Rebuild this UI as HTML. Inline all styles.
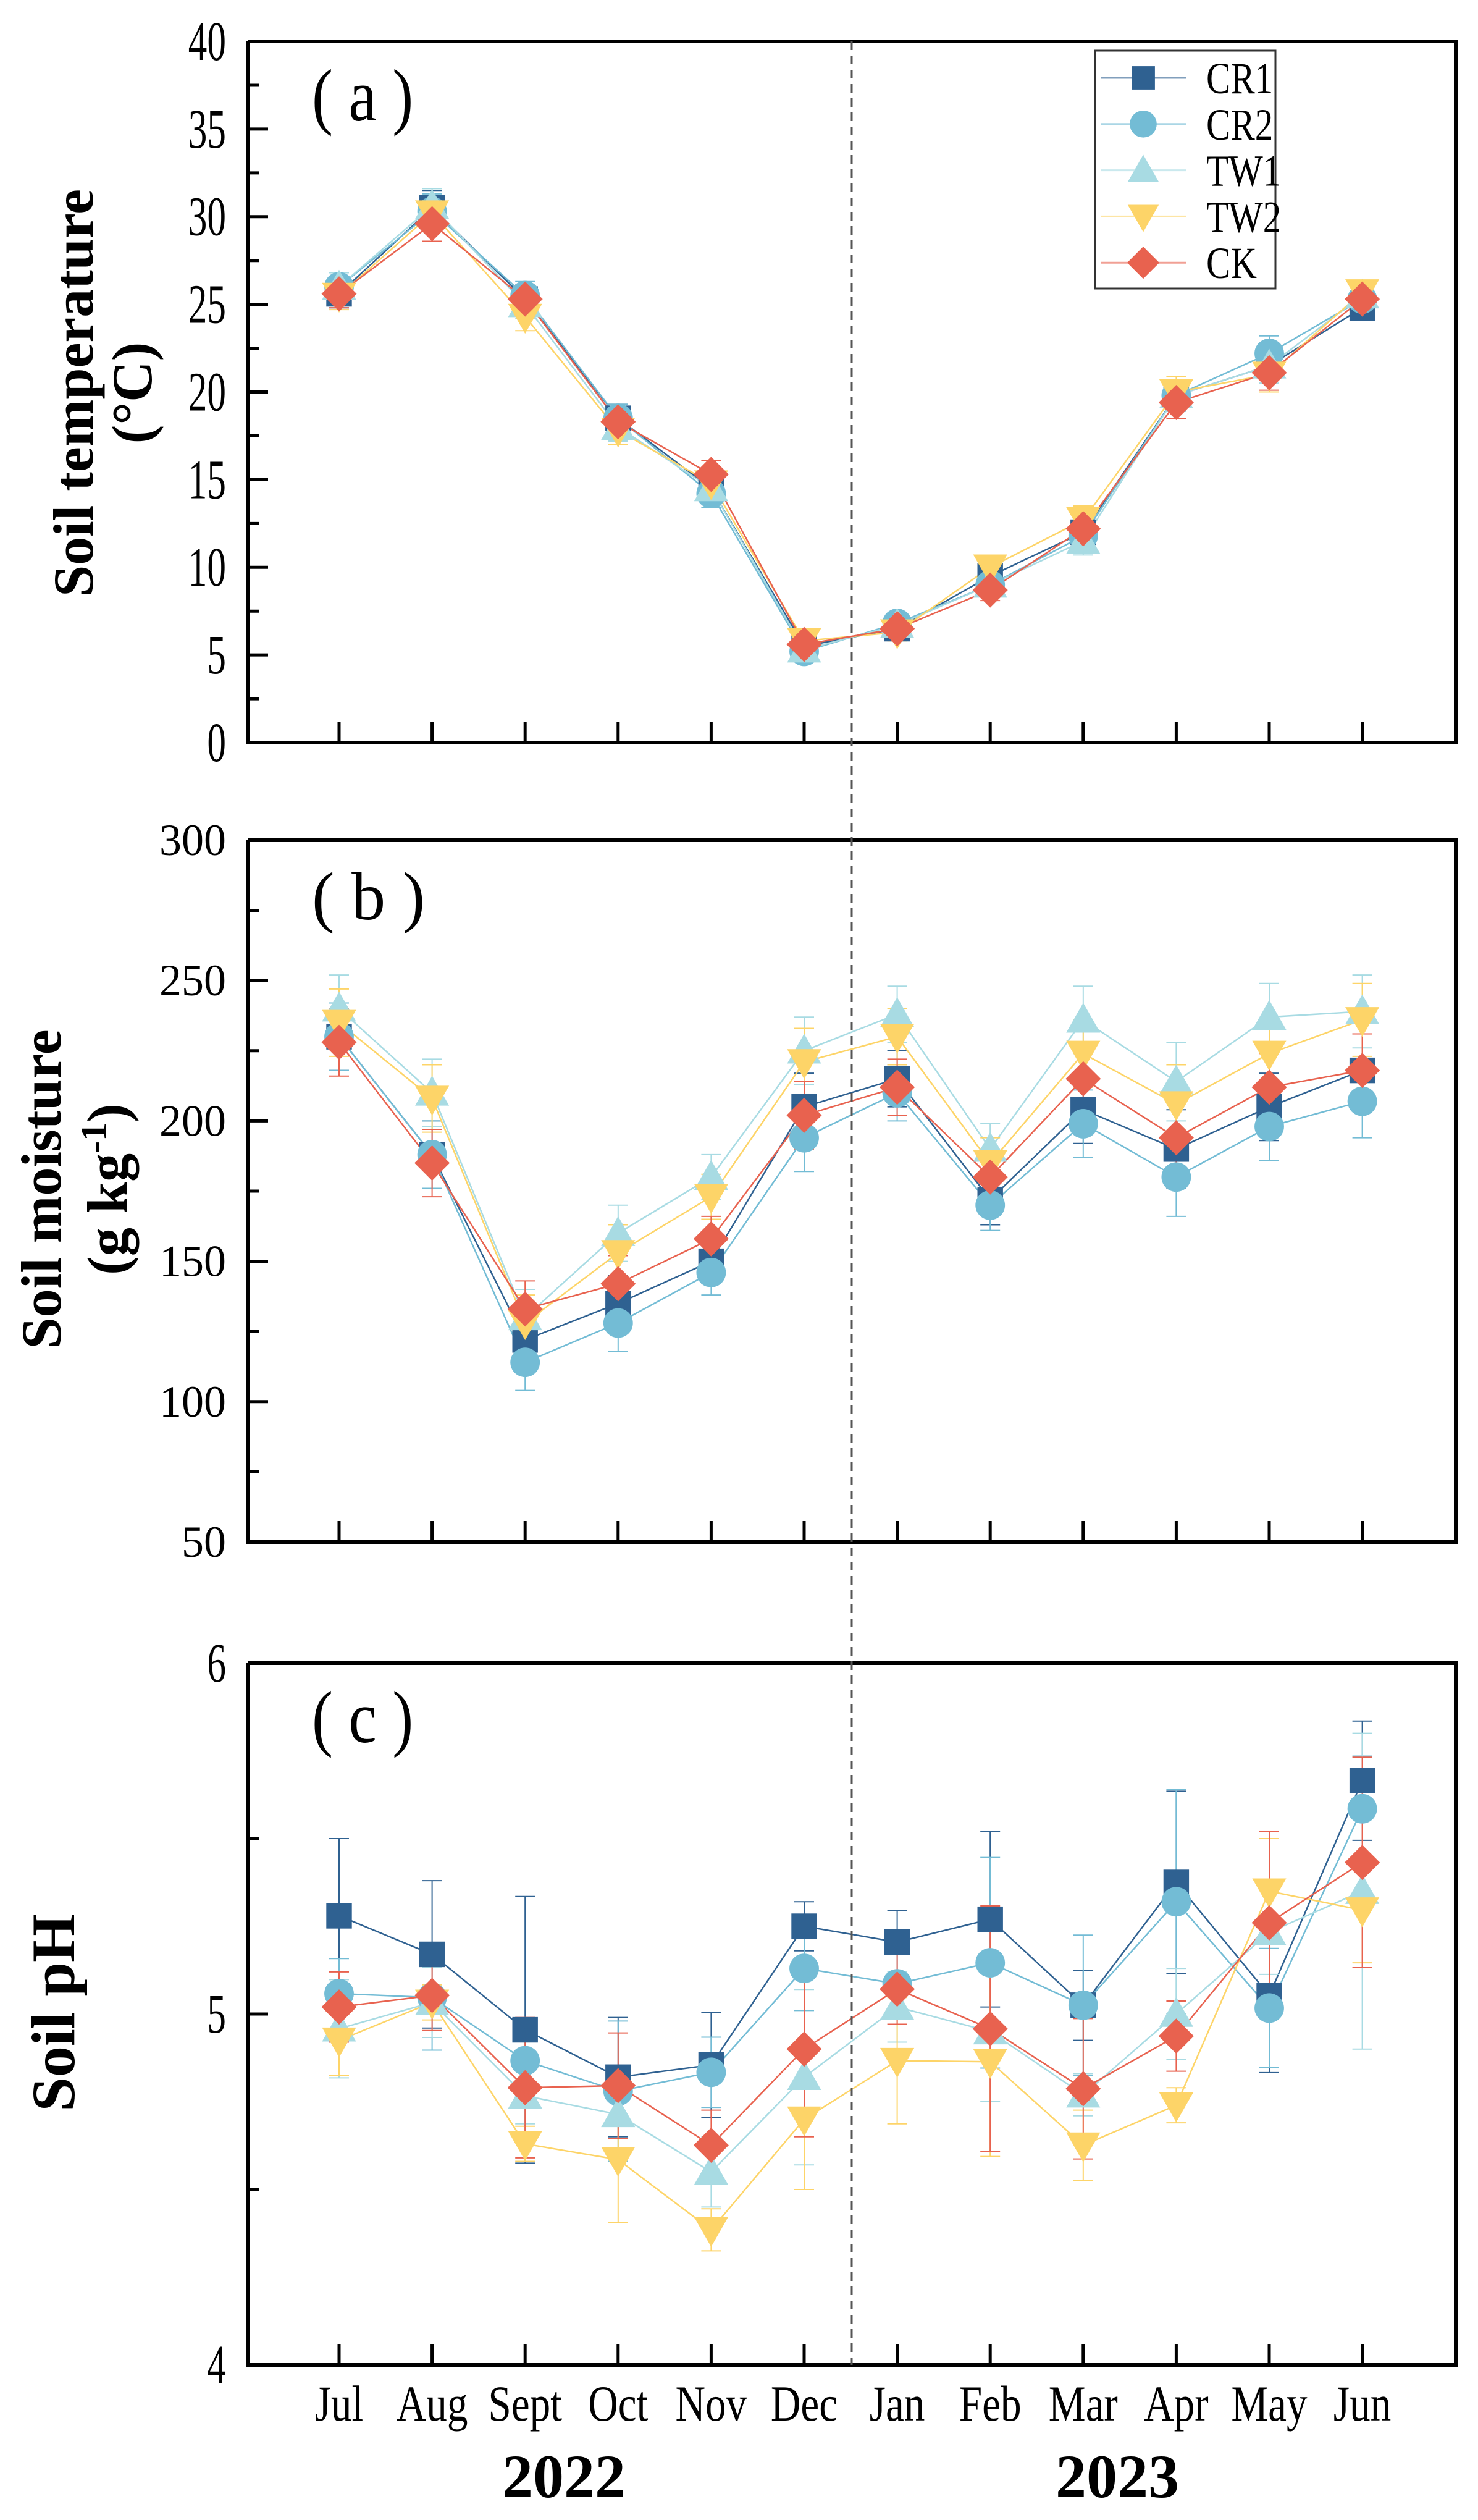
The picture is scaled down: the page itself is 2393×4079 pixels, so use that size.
<!DOCTYPE html>
<html><head><meta charset="utf-8"><style>
html,body{margin:0;padding:0;background:#fff;}
svg{display:block;}
text{font-family:"Liberation Serif","Noto Serif CJK SC",serif;fill:#000;}
</style></head><body>
<svg id="chart" width="2393" height="4079" viewBox="0 0 2393 4079" xmlns="http://www.w3.org/2000/svg"></svg>
<script>
const months = ["Jul","Aug","Sept","Oct","Nov","Dec","Jan","Feb","Mar","Apr","May","Jun"];
const seriesNames = ["CR1","CR2","TW1","TW2","CK"];
const tempCR1 = [25.6,30.5,25.3,18.5,14.5,5.5,6.5,9.5,12.0,19.8,21.5,24.8];
const tempCR2 = [26.0,30.3,25.5,18.5,14.2,5.2,6.8,9.0,11.8,19.8,22.2,25.3];
const tempTW1 = [26.0,30.6,25.0,18.0,14.5,5.3,6.7,9.0,11.5,19.8,21.5,25.5];
const tempTW2 = [25.5,30.2,24.3,17.8,14.8,5.8,6.3,10.0,12.7,20.0,21.0,25.7];
const tempCK  = [25.6,29.6,25.3,18.3,15.3,5.6,6.5,8.7,12.2,19.4,21.1,25.3];
const tempErr = [0.8,1.0,0.8,0.8,0.8,0.5,0.5,0.6,0.8,0.9,1.0,0.6];
const moistCR1 = [230,188,122,135,150,205,215,172,204,190,205,218];
const moistCR2 = [230,188,114,128,146,194,210,170,199,180,198,207];
const moistTW1 = [240,210,130,160,180,225,238,190,236,214,237,239];
const moistTW2 = [235,208,128,153,173,221,230,185,224,206,224,236];
const moistCK  = [228,185,133,142,158,202,212,180,215,194,212,218];
const moistErr = [12,12,10,10,8,12,10,9,12,14,12,13];
const phCR1 = [5.28,5.17,4.955,4.82,4.855,5.25,5.205,5.27,5.025,5.375,5.053,5.665];
const phCR2 = [5.058,5.047,4.867,4.78,4.834,5.13,5.086,5.146,5.025,5.32,5.017,5.585];
const phTW1 = [4.958,5.033,4.767,4.714,4.55,4.82,5.02,4.95,4.77,5.0,5.233,5.35];
const phTW2 = [4.925,5.033,4.63,4.585,4.385,4.70,4.867,4.864,4.626,4.74,5.35,5.296];
const phCK  = [5.02,5.053,4.79,4.796,4.626,4.90,5.071,4.958,4.787,4.937,5.26,5.432];
const phErrCR1 = [0.22,0.21,0.38,0.17,0.15,0.07,0.09,0.25,0.1,0.26,0.22,0.17];
const phErrCR2 = [0.1,0.15,0.1,0.2,0.1,0.12,0.1,0.3,0.2,0.32,0.17,0.15];
const phErrTW1 = [0.14,0.1,0.08,0.13,0.1,0.25,0.1,0.2,0.06,0.13,0.12,0.45];
const phErrTW2 = [0.1,0.05,0.05,0.18,0.06,0.2,0.18,0.27,0.1,0.05,0.15,0.15];
const phErrCK  = [0.1,0.1,0.2,0.15,0.1,0.25,0.1,0.35,0.2,0.1,0.26,0.3];
const tempTicks = ["0","5","10","15","20","25","30","35","40"];
const moistTicks = ["50","100","150","200","250","300"];
const phTicks = ["4","5","6"];

const colors = ["#2f6191","#73bcd5","#a8dbe3","#fdd468","#e8624f"];
const lineColors = ["#2f6191","#73bcd5","#a8dbe3","#fdd468","#e8624f"];
const NS = "http://www.w3.org/2000/svg";
const svg = document.getElementById("chart");
const L = 402, R = 2357, X0 = 549, DX = 150.6;
function xPos(i){ return X0 + i*DX; }
function mk(tag, attrs, parent){ const e=document.createElementNS(NS,tag); for(const k in attrs) e.setAttribute(k,attrs[k]); (parent||svg).appendChild(e); return e; }
function squeeze(el, x, f){ el.setAttribute("transform",`translate(${x},0) scale(${f},1) translate(${-x},0)`); }

function marker(g, k, x, y, s){
  const c = colors[k]; let e;
  if(k===0){ e=mk("rect",{x:x-s*0.45,y:y-s*0.45,width:s*0.9,height:s*0.9,fill:c},g); }
  else if(k===1){ e=mk("circle",{cx:x,cy:y,r:s*0.52,fill:c},g); }
  else if(k===2){ e=mk("polygon",{points:`${x},${y-s*0.6} ${x+s*0.6},${y+s*0.45} ${x-s*0.6},${y+s*0.45}`,fill:c},g); }
  else if(k===3){ e=mk("polygon",{points:`${x-s*0.6},${y-s*0.45} ${x+s*0.6},${y-s*0.45} ${x},${y+s*0.6}`,fill:c},g); }
  else { e=mk("polygon",{points:`${x},${y-s*0.62} ${x+s*0.62},${y} ${x},${y+s*0.62} ${x-s*0.62},${y}`,fill:c},g); }
  return e;
}

function panel(cfg){
  const {top,bottom,min,max,ticks,minorStep,series,errs,label,wide} = cfg;
  const y = v => bottom - (v-min)/(max-min)*(bottom-top);
  const g = mk("g",{});
  
  
  series.forEach((vals,k)=>{
    const sg = mk("g",{},g);
    
    
    const pts = vals.map((v,i)=>`${xPos(i)},${y(v)}`).join(" ");
    mk("polyline",{points:pts,fill:"none",stroke:lineColors[k],"stroke-width":2.5},sg);
    vals.forEach((v,i)=>{
      const e = errs[k][i], x = xPos(i);
      const eb = mk("path",{d:`M${x},${y(v-e)}V${y(v+e)}M${x-16},${y(v-e)}h32M${x-16},${y(v+e)}h32`,stroke:lineColors[k],"stroke-width":2,fill:"none"},sg);
      
      
    });
  });
  series.forEach((vals,k)=>{
    vals.forEach((v,i)=>{
      const m = marker(g,k,xPos(i),y(v),46);
      
      
    });
  });
  const ax = mk("path",{d:`M${L},${top}V${bottom}H${R}V${top}H${L}`,stroke:"#000","stroke-width":6,fill:"none"},g);
  
  
  ticks.forEach(t=>{
    const v=parseFloat(t), yy=y(v);
    mk("line",{x1:L,x2:L+32,y1:yy,y2:yy,stroke:"#000","stroke-width":5},g);
    const tx = mk("text",{x:366,y:yy+(wide?24:30),"text-anchor":"end","font-size":wide?72:90},g);
    if(!wide) squeeze(tx,366,0.68);
    tx.textContent=t;
    
    
  });
  for(let v=min+minorStep; v<max; v+=minorStep){
    if(ticks.some(t=>Math.abs(parseFloat(t)-v)<1e-6)) continue;
    mk("line",{x1:L,x2:L+17,y1:y(v),y2:y(v),stroke:"#000","stroke-width":5},g);
  }
  months.forEach((m,i)=>{ mk("line",{x1:xPos(i),x2:xPos(i),y1:bottom,y2:bottom-34,stroke:"#000","stroke-width":5},g); });
  const pl = mk("text",{x:505,y:top+128,"font-size":wide?110:120},g);
  if(!wide) squeeze(pl,505,0.85);
  pl.textContent=label;
  
  
  return g;
}

panel({name:"panel-a-temperature",short:"a",top:67,bottom:1202,min:0,max:40,ticks:tempTicks,minorStep:2.5,
  series:[tempCR1,tempCR2,tempTW1,tempTW2,tempCK],errs:[tempErr,tempErr,tempErr,tempErr,tempErr],label:"( a )"});
panel({name:"panel-b-moisture",short:"b",top:1360,bottom:2496,min:50,max:300,ticks:moistTicks,minorStep:25,
  series:[moistCR1,moistCR2,moistTW1,moistTW2,moistCK],errs:[moistErr,moistErr,moistErr,moistErr,moistErr],label:"( b )",wide:true});
panel({name:"panel-c-ph",short:"c",top:2692,bottom:3828,min:4,max:6,ticks:phTicks,minorStep:0.5,
  series:[phCR1,phCR2,phTW1,phTW2,phCK],errs:[phErrCR1,phErrCR2,phErrTW1,phErrTW2,phErrCK],label:"( c )"});

const dl = mk("line",{x1:1379,x2:1379,y1:67,y2:3828,stroke:"#555","stroke-width":3,"stroke-dasharray":"14,9"});



months.forEach((m,i)=>{
  const t=mk("text",{x:xPos(i),y:3918,"text-anchor":"middle","font-size":82});
  squeeze(t,xPos(i),0.82);
  t.textContent=m;
  
  
});
[["2022",913],["2023",1809]].forEach(([s,x])=>{
  const t=mk("text",{x:x,y:4042,"text-anchor":"middle","font-size":100,"font-weight":"bold"});
  t.textContent=s;
  
  
});

function ytitle(lines, cy, name){
  lines.forEach(([txt,x,sz])=>{
    const t=mk("text",{x:x,y:cy,"text-anchor":"middle","font-size":sz,"font-weight":"bold",transform:`rotate(-90 ${x} ${cy})`});
    t.innerHTML=txt;
    
    
  });
}
ytitle([["Soil temperature",150,92],["(°C)",245,92]],636,"y-axis-title-temperature");
ytitle([["Soil moisture",98,92],["(g kg<tspan baseline-shift=\"super\" font-size=\"60\">-1</tspan>)",205,92]],1925,"y-axis-title-moisture");
ytitle([["Soil pH",120,100]],3258,"y-axis-title-ph");

const lg = mk("g",{});


mk("rect",{x:1773,y:82,width:292,height:385,fill:"#fff",stroke:"#333","stroke-width":3},lg);
seriesNames.forEach((n,k)=>{
  const yy = 126 + k*74.8;
  const e = mk("g",{},lg);
  
  
  mk("line",{x1:1783,x2:1920,y1:yy,y2:yy,stroke:lineColors[k],"stroke-width":3,opacity:0.6},e);
  marker(e,k,1851,yy,42);
  const t=mk("text",{x:1953,y:yy+25,"font-size":72},e);
  squeeze(t,1953,0.82);
  t.textContent=n;
});
</script>
</body></html>
